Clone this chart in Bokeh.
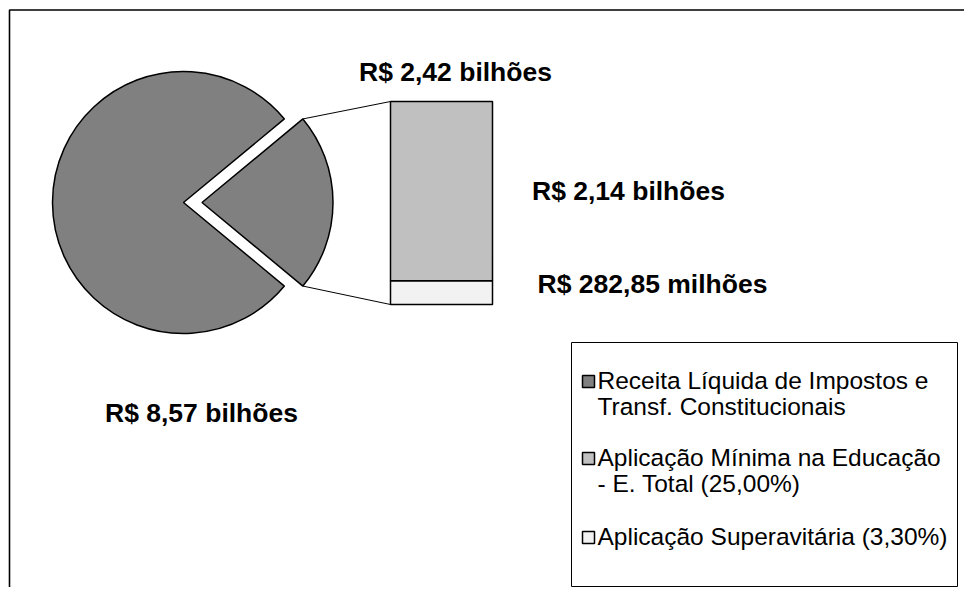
import math
from bokeh.plotting import figure
from bokeh.models import Range1d
from bokeh.core.properties import value
from bokeh.embed import file_html
from bokeh.resources import INLINE

# ---- data (bilhões de R$) ----
pie_values = [8.57, 2.42]            # big slice, detailed slice
bar_values = [0.28285, 2.14]         # stacked bottom -> top: Superavitária, Aplicação Mínima
bar_colors = ["#F2F2F2", "#C0C0C0"]
pie_label = "R$ 8,57 bilhões"
detail_label = "R$ 2,42 bilhões"
bar_labels = ["R$ 2,14 bilhões", "R$ 282,85 milhões"]
legend_labels = ["Receita Líquida de Impostos e\nTransf. Constitucionais",
                 "Aplicação Mínima na Educação\n- E. Total (25,00%)",
                 "Aplicação Superavitária (3,30%)"]
legend_colors = ["#808080", "#C0C0C0", "#F2F2F2"]

W, H = 964, 587
FONT = value("Liberation Sans")


def Y(sy):
    return H - sy


p = figure(width=W, height=H, x_range=Range1d(0, W), y_range=Range1d(0, H),
           output_backend="svg", toolbar_location=None, min_border=0)
p.axis.visible = False
p.grid.visible = False
p.outline_line_color = None
p.background_fill_color = "white"
p.border_fill_color = "white"

# chart frame (right/bottom edges fall outside the picture)
p.quad(left=[9], right=[1100], top=[Y(9.5)], bottom=[-100], fill_color=None,
       line_color="black", line_width=1.6)

# ---- pie ----
cx, cy, r = 183, Y(202), 131
explode = 18.5
total = sum(pie_values)
half = math.pi * pie_values[1] / total
p.wedge(x=[cx], y=[cy], radius=r, start_angle=half, end_angle=2 * math.pi - half,
        fill_color=legend_colors[0], line_color="black", line_width=1.5)
p.wedge(x=[cx + explode], y=[cy], radius=r, start_angle=-half, end_angle=half,
        fill_color=legend_colors[0], line_color="black", line_width=1.5)

# ---- bar ----
bar_left, bar_right = 390, 492
bar_bottom_sy, bar_top_sy = 304, 101
bar_total = sum(bar_values)
scale = (bar_bottom_sy - bar_top_sy) / bar_total
base = Y(bar_bottom_sy)
p.extra_y_ranges = {"bar": Range1d(start=(0 - base) / scale, end=(H - base) / scale)}
bottoms, tops, acc = [], [], 0.0
for v in bar_values:
    bottoms.append(acc)
    acc += v
    tops.append(acc)
p.quad(left=bar_left, right=bar_right, bottom=bottoms, top=tops,
       fill_color=bar_colors, line_color="black", line_width=1.5, y_range_name="bar")

# connector lines
ex = cx + explode + r * math.cos(half)
ey_top = cy + r * math.sin(half)
ey_bot = cy - r * math.sin(half)
p.segment(x0=[ex, ex], y0=[ey_top, ey_bot], x1=[bar_left, bar_left],
          y1=[Y(bar_top_sy), Y(bar_bottom_sy)], line_color="black", line_width=1)

# ---- value labels ----
p.text(x=[201, 455, 628, 652], y=[Y(412), Y(71), Y(190), Y(283)],
       text=[pie_label, detail_label] + bar_labels,
       text_font=FONT, text_font_style="bold", text_font_size="26.5px",
       text_align="center", text_baseline="middle", text_color="black")

# ---- legend ----
p.quad(left=[571], right=[957], top=[Y(342)], bottom=[Y(586)], fill_color="white",
       line_color="black", line_width=1)
first_line_y = [380, 457, 536]
line_gap = 26
lx, ly, lt = [], [], []
for lab, sy in zip(legend_labels, first_line_y):
    for i, line in enumerate(lab.split("\n")):
        lx.append(597)
        ly.append(Y(sy + i * line_gap))
        lt.append(line)
p.rect(x=[588] * 3, y=[Y(s + 1) for s in first_line_y], width=12, height=12,
       fill_color=legend_colors, line_color="black", line_width=1.5)
p.text(x=lx, y=ly, text=lt, text_font=FONT, text_font_size="24.5px",
       text_align="left", text_baseline="middle", text_color="black")

html = file_html(p, INLINE)
open("out.html", "w").write(html)
